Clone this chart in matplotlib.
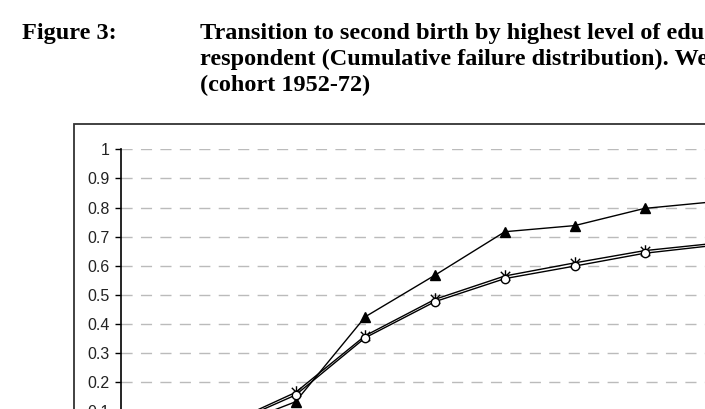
import matplotlib
matplotlib.use("Agg")
import matplotlib.pyplot as plt
from matplotlib.patches import Rectangle
from matplotlib.path import Path

# cumulative failure (transition to 2nd birth), by education level of respondent
durations = [0, 1, 2, 3, 4, 5, 6, 7, 8, 9]
low_edu = [0.005, 0.04, 0.133, 0.425, 0.568, 0.717, 0.738, 0.797, 0.82, 0.83]
mid_edu = [0.005, 0.05, 0.156, 0.353, 0.477, 0.556, 0.599, 0.643, 0.67, 0.69]
high_edu = [0.006, 0.055, 0.165, 0.36, 0.485, 0.565, 0.61, 0.652, 0.677, 0.695]

yticks = [0, 0.1, 0.2, 0.3, 0.4, 0.5, 0.6, 0.7, 0.8, 0.9, 1]
ytick_labels = ["0", "0.1", "0.2", "0.3", "0.4", "0.5", "0.6", "0.7", "0.8", "0.9", "1"]

title_label = "Figure 3:"
title_lines = [
    "Transition to second birth by highest level of education of the",
    "respondent (Cumulative failure distribution). West Germany",
    "(cohort 1952-72)",
]

W, H = 705, 409
fig = plt.figure(figsize=(W / 100, H / 100), dpi=100)

# page title (figure is a crop of a report page)
serif = "Liberation Serif"
fig.text(22 / W, 1 - 39.5 / H, title_label, fontsize=17.5, fontweight="bold",
         family=serif, va="baseline", ha="left")
for i, line in enumerate(title_lines):
    fig.text(200 / W, 1 - (39.5 + 26 * i) / H, line, fontsize=17.5,
             fontweight="bold", family=serif, va="baseline", ha="left")

# chart frame
fig.patches.append(Rectangle((74 / W, -0.5), 2, 0.5 + 1 - 124 / H,
                             transform=fig.transFigure, fill=False,
                             edgecolor="#333333", linewidth=1.3))

# excel-style asterisk marker: x with a vertical bar
star = Path([(0, -1), (0, 1), (-0.75, -0.75), (0.75, 0.75), (-0.75, 0.75), (0.75, -0.75)],
            [Path.MOVETO, Path.LINETO, Path.MOVETO, Path.LINETO, Path.MOVETO, Path.LINETO])

# axes: y=0 at 440.5px, y=1 at 149.3px, category width 69.8px
ax = fig.add_axes([121 / W, (H - 440.5) / H, 698 / W, 291.2 / H])
ax.set_xlim(-0.5, 9.5)
ax.set_ylim(0, 1)

ax.plot(durations, low_edu, color="black", lw=1, marker="^", ms=7,
        mfc="black", mec="black")
ax.plot(durations, high_edu, color="black", lw=1, marker=star, ms=9,
        mec="black", mew=1)
ax.plot(durations, mid_edu, color="black", lw=1, marker="o", ms=6,
        mfc="white", mec="black", mew=1)

ax.set_yticks(yticks)
ax.set_yticklabels(ytick_labels)
ax.yaxis.grid(True, linestyle=(0, (8, 6)), color="#bbbbbb", linewidth=1)
ax.set_axisbelow(True)
ax.tick_params(axis="y", direction="out", length=4, width=1, pad=4,
               labelsize=11.5, labelcolor="#222222")
for lab in ax.get_yticklabels():
    lab.set_family("Liberation Sans")
ax.set_xticks([])
for s in ["top", "right", "bottom"]:
    ax.spines[s].set_visible(False)
ax.spines["left"].set_linewidth(1.2)
ax.patch.set_alpha(0)

fig.savefig("out.png", dpi=100)
